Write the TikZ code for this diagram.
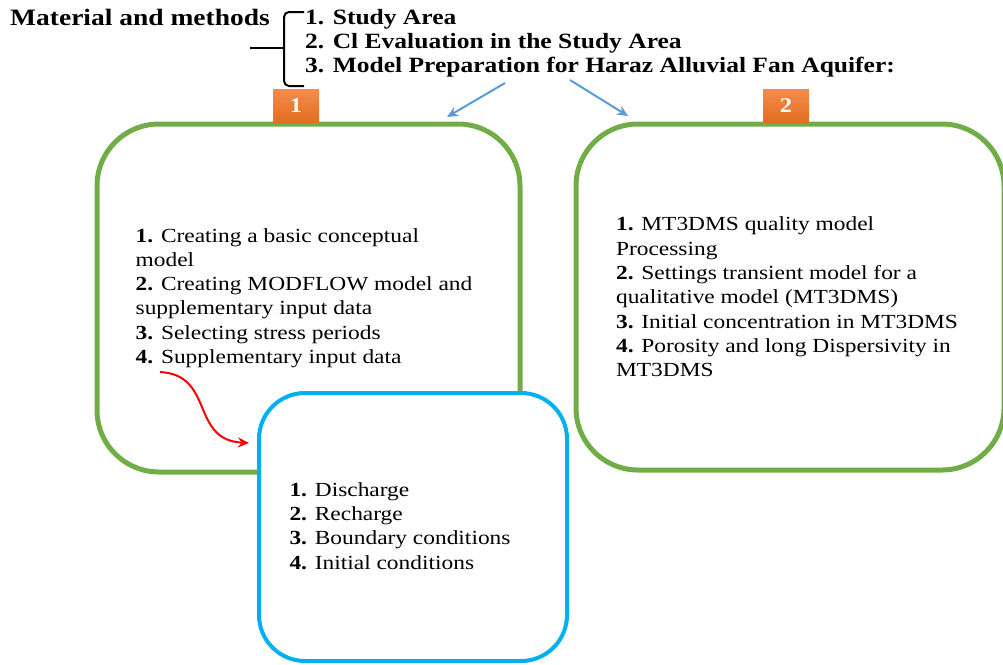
\documentclass[tikz,border=0pt]{standalone}
\usepackage{fontspec}
\setmainfont{Liberation Serif}[FakeStretch=1.17]
\usetikzlibrary{arrows.meta}
\definecolor{grn}{HTML}{70AD47}
\definecolor{cyanb}{HTML}{00B0F0}
\definecolor{arrblue}{HTML}{5B9BD5}
\definecolor{orgtop}{HTML}{F28C4E}
\definecolor{orgbot}{HTML}{E46C1E}
\tikzset{
  head/.style={font=\bfseries\fontsize{23.5}{23.5}\selectfont, inner sep=0pt, anchor=base west},
  item/.style={font=\bfseries\fontsize{21.8}{21.8}\selectfont, inner sep=0pt, anchor=base west},
  body/.style={font=\fontsize{20}{24.3}\selectfont, align=left, inner sep=0pt},
  greenbox/.style={draw=grn, line width=5pt, rounded corners=62pt, fill=white},
  bluebox/.style={draw=cyanb, line width=4pt, rounded corners=46pt, fill=white},
  tag/.style={top color=orgtop, bottom color=orgbot, draw=none, minimum width=46pt, minimum height=33pt,
    text=white, font=\bfseries\fontsize{21}{21}\selectfont, inner sep=0pt},
  bluearrow/.style={draw=arrblue, line width=2pt, -{Stealth[length=11pt,width=10pt]}},
  redarrow/.style={draw=red, line width=2pt, -{Stealth[length=11pt,width=10pt]}}
}
\begin{document}
\begin{tikzpicture}[x=1pt,y=-1pt]
\useasboundingbox (0,0) rectangle (1003,664);
% header
\node[head] (mm) at (10,25) {Material and methods};
\node[item] (i1) at (305,24) {1. Study Area};
\node[item] (i2) at (305,48) {2. Cl Evaluation in the Study Area};
\node[item] (i3) at (305,72) {3. Model Preparation for Haraz Alluvial Fan Aquifer:};
% brace
\draw[line width=2pt, rounded corners=5pt] (304,12) -- (284,12) -- (284,86) -- (304,86);
\draw[line width=2pt] (250,48) -- (284,48);
% boxes
\node[greenbox, minimum width=423pt, minimum height=348pt] (b1) at (308.5,298) {};
\node[body] (t1) at (304,298) {\textbf{1.} Creating a basic conceptual\\model\\\textbf{2.} Creating MODFLOW model and\\supplementary input data\\\textbf{3.} Selecting stress periods\\\textbf{4.} Supplementary input data};
\node[greenbox, minimum width=428pt, minimum height=346pt] (b2) at (790,297) {};
\node[body] (t2) at (787,297) {\textbf{1.} MT3DMS quality model\\Processing\\\textbf{2.} Settings transient model for a\\qualitative model (MT3DMS)\\\textbf{3.} Initial concentration in MT3DMS\\\textbf{4.} Porosity and long Dispersivity in\\MT3DMS};
\node[bluebox, minimum width=308pt, minimum height=268pt] (b3) at (413,527) {};
\node[body] (t3) at (400,526) {\textbf{1.} Discharge\\\textbf{2.} Recharge\\\textbf{3.} Boundary conditions\\\textbf{4.} Initial conditions};
% tags
\node[tag] (g1) at (296,106) {1};
\node[tag] (g2) at (786,106) {2};
% arrows
\coordinate (a1s) at (505,83);
\coordinate (a1e) at (447,117);
\coordinate (a2s) at (570,80);
\coordinate (a2e) at (628,116);
\draw[bluearrow] (a1s) -- (a1e);
\draw[bluearrow] (a2s) -- (a2e);
\coordinate (rs) at (160,372);
\coordinate (re) at (249,443);
\draw[redarrow] (rs) .. controls (215,375) and (190,440) .. (re);
\end{tikzpicture}
\end{document}
